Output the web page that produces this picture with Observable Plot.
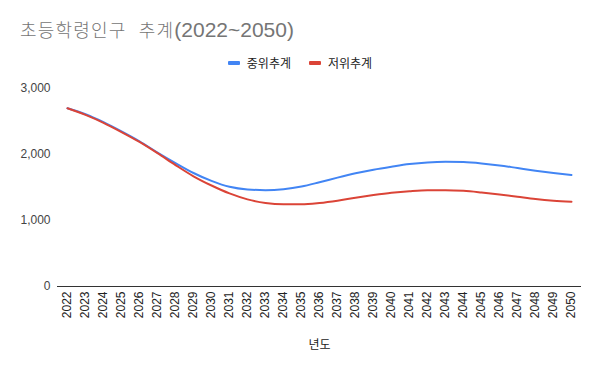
<!DOCTYPE html>
<html>
<head>
<meta charset="utf-8">
<script src="https://cdn.jsdelivr.net/npm/d3@7"></script>
<script src="https://cdn.jsdelivr.net/npm/@observablehq/plot@0.6"></script>
<style>
  body { margin: 0; background: #fff; font-family: "Liberation Sans", Arial, "Noto Sans CJK KR", sans-serif; }
  #wrap { width: 600px; height: 371px; position: relative; overflow: hidden; }
  #title { position: absolute; left: 20px; top: 16px; font-size: 21px; color: #757575; white-space: nowrap; }
  #title .ko { font-size: 18px; letter-spacing: 1.2px; word-spacing: 6px; font-weight: 300; }
  #legend { position: absolute; top: 54px; left: 0; width: 600px; display: flex; justify-content: center; gap: 18px; font-size: 12px; color: #222; }
  .item { display: flex; align-items: center; gap: 7px; }
  .sw { width: 12px; height: 4px; border-radius: 1px; }
  #chart { position: absolute; top: 75px; left: 0; }
</style>
</head>
<body>
<div id="wrap">
  <div id="title"><span class="ko">초등학령인구 추계</span>(2022~2050)</div>
  <div id="legend"></div>
  <div id="chart"></div>
</div>
<script>
const years = [2022,2023,2024,2025,2026,2027,2028,2029,2030,2031,2032,2033,2034,2035,2036,2037,2038,2039,2040,2041,2042,2043,2044,2045,2046,2047,2048,2049,2050];
const seriesNames = ["중위추계", "저위추계"];
const seriesColors = ["#4285F4", "#DB4437"];
const medium = [2700,2610,2490,2350,2200,2030,1870,1720,1600,1510,1470,1460,1475,1515,1580,1650,1715,1770,1815,1855,1880,1890,1885,1865,1835,1795,1755,1720,1690];
const low = [2700,2600,2480,2340,2190,2020,1840,1670,1530,1410,1320,1265,1245,1245,1265,1300,1345,1385,1420,1445,1460,1460,1450,1425,1395,1360,1325,1300,1285];
const yTicks = [0, 1000, 2000, 3000];
const xLabel = "년도";

const data = [];
[medium, low].forEach((arr, s) => arr.forEach((v, i) => data.push({year: String(years[i]), value: v, series: seriesNames[s]})));

const legend = document.getElementById("legend");
seriesNames.forEach((n, i) => {
  const it = document.createElement("div");
  it.className = "item";
  it.innerHTML = `<span class="sw" style="background:${seriesColors[i]}"></span><span>${n}</span>`;
  legend.appendChild(it);
});

const chart = Plot.plot({
  width: 600,
  height: 296,
  marginTop: 13,
  marginLeft: 57,
  marginRight: 19,
  marginBottom: 85,
  style: { fontFamily: "'Liberation Sans', Arial, 'Noto Sans CJK KR', sans-serif", fontSize: "12px", color: "#222", background: "#fff" },
  x: { type: "point", domain: years.map(String), padding: 0.5 },
  y: { domain: [0, 3000] },
  color: { domain: seriesNames, range: seriesColors },
  marks: [
    Plot.gridY(yTicks, { stroke: "#ccc", strokeOpacity: 1, x1: 55, x2: 582 }),
    Plot.ruleY([0], { stroke: "#333", strokeWidth: 1 }),
    Plot.axisY({ ticks: yTicks, tickSize: 0, tickPadding: 7, tickFormat: d3.format(","), label: null, fill: "#444" }),
    Plot.axisX({ tickSize: 0, tickPadding: 5, tickRotate: -90, label: xLabel, labelAnchor: "center", labelOffset: 62, fill: "#222" }),
    Plot.line(data, { x: "year", y: "value", z: "series", stroke: "series", strokeWidth: 2, curve: "monotone-x" })
  ]
});
document.getElementById("chart").appendChild(chart);
</script>
</body>
</html>
